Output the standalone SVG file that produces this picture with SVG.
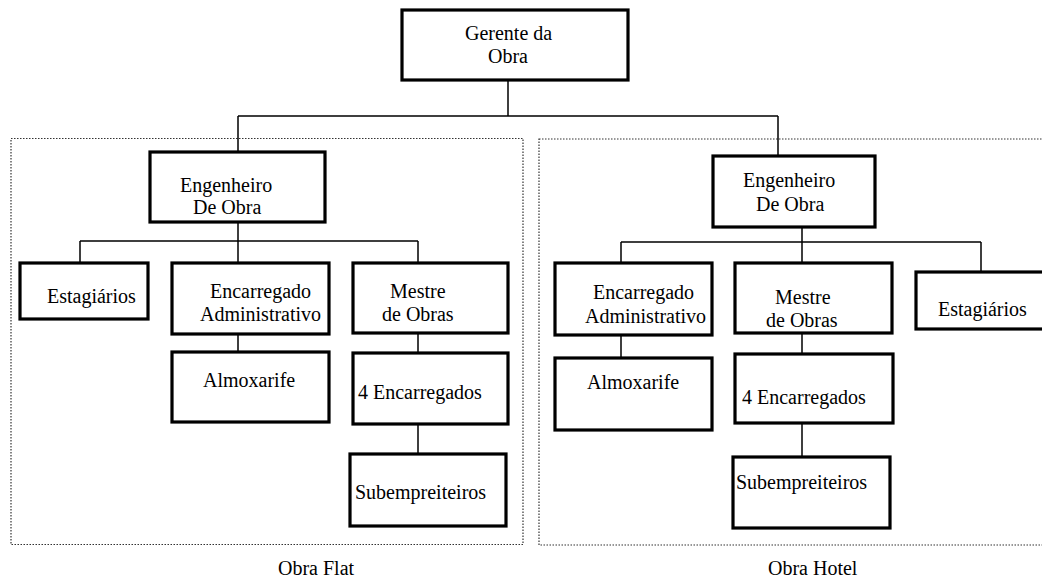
<svg xmlns="http://www.w3.org/2000/svg" width="1042" height="579" viewBox="0 0 1042 579">
  <style>
    .box { fill: #fff; stroke: #000; stroke-width: 3.2; }
    .frame { fill: none; stroke: #333; stroke-width: 1.2; stroke-dasharray: 1.5 1.5; }
    .conn { fill: none; stroke: #000; stroke-width: 1.5; }
    .t { font-family: 'Liberation Serif', 'DejaVu Serif', serif; font-size: 20px; fill: #000; }
  </style>

  <!-- site frames -->
  <g id="frames">
    <rect class="frame" x="11" y="138.5" width="512" height="406"/>
    <rect class="frame" x="539" y="139" width="520" height="406"/>
  </g>

  <!-- connectors -->
  <g id="connectors">
    <path class="conn" d="M508 80 V116 M238 116 H778 M238 116 V153 M778 116 V156"/>
    <path class="conn" d="M238 222 V241 M80 241 H418 M80 241 V263 M238 241 V263 M418 241 V263"/>
    <path class="conn" d="M238 334 V352 M418 333 V353 M418 424 V454"/>
    <path class="conn" d="M802 227 V242 M621 242 H981 M621 242 V263 M802 242 V263 M981 242 V272"/>
    <path class="conn" d="M621 335 V358 M802 333 V354 M802 423 V457"/>
  </g>

  <g font-family="Liberation Serif, DejaVu Serif, serif" font-size="20">
  <g id="gerente">
    <rect class="box" x="402" y="10" width="226" height="70"/>
    <text class="t" x="465" y="40">Gerente da</text>
    <text class="t" x="488" y="63">Obra</text>
  </g>

  <!-- Obra Flat -->
  <g id="flat-engenheiro">
    <rect class="box" x="150" y="152" width="175" height="70"/>
    <text class="t" x="180" y="192">Engenheiro</text>
    <text class="t" x="193" y="214">De Obra</text>
  </g>
  <g id="flat-estagiarios">
    <rect class="box" x="20" y="263" width="128" height="56"/>
    <text class="t" x="47" y="303">Estagiários</text>
  </g>
  <g id="flat-encarregado">
    <rect class="box" x="172" y="263" width="157" height="71"/>
    <text class="t" x="210" y="298">Encarregado</text>
    <text class="t" x="200" y="321">Administrativo</text>
  </g>
  <g id="flat-almoxarife">
    <rect class="box" x="172" y="352" width="157" height="70"/>
    <text class="t" x="203" y="387">Almoxarife</text>
  </g>
  <g id="flat-mestre">
    <rect class="box" x="353" y="263" width="155" height="70"/>
    <text class="t" x="390" y="298">Mestre</text>
    <text class="t" x="382" y="321">de Obras</text>
  </g>
  <g id="flat-encarregados">
    <rect class="box" x="353" y="353" width="155" height="71"/>
    <text class="t" x="358" y="399">4 Encarregados</text>
  </g>
  <g id="flat-subempreiteiros">
    <rect class="box" x="350" y="454" width="156" height="72"/>
    <text class="t" x="355" y="499">Subempreiteiros</text>
  </g>

  <!-- Obra Hotel -->
  <g id="hotel-engenheiro">
    <rect class="box" x="713" y="156" width="162" height="71"/>
    <text class="t" x="743" y="187">Engenheiro</text>
    <text class="t" x="756" y="211">De Obra</text>
  </g>
  <g id="hotel-encarregado">
    <rect class="box" x="555" y="263" width="157" height="72"/>
    <text class="t" x="593" y="299">Encarregado</text>
    <text class="t" x="585" y="323">Administrativo</text>
  </g>
  <g id="hotel-almoxarife">
    <rect class="box" x="555" y="358" width="157" height="72"/>
    <text class="t" x="587" y="389">Almoxarife</text>
  </g>
  <g id="hotel-mestre">
    <rect class="box" x="735" y="263" width="157" height="70"/>
    <text class="t" x="775" y="304">Mestre</text>
    <text class="t" x="766" y="327">de Obras</text>
  </g>
  <g id="hotel-encarregados">
    <rect class="box" x="735" y="354" width="158" height="69"/>
    <text class="t" x="742" y="404">4 Encarregados</text>
  </g>
  <g id="hotel-subempreiteiros">
    <rect class="box" x="733" y="457" width="157" height="71"/>
    <text class="t" x="736" y="489">Subempreiteiros</text>
  </g>
  <g id="hotel-estagiarios">
    <rect class="box" x="916" y="272" width="140" height="57"/>
    <text class="t" x="938" y="316">Estagiários</text>
  </g>

  <g id="labels">
    <text class="t" x="278" y="575">Obra Flat</text>
    <text class="t" x="768" y="575">Obra Hotel</text>
  </g>
  </g>
</svg>
